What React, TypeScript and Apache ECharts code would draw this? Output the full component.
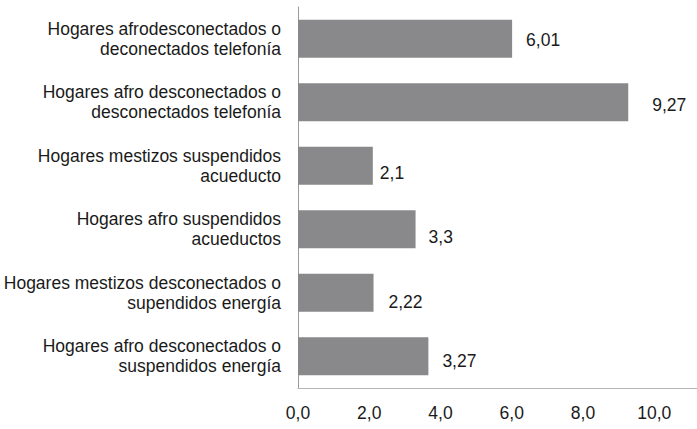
import React, { useEffect, useRef } from "react";
import * as echarts from "echarts";

const categories = [
  "Hogares afrodesconectados o\ndeconectados telefonía",
  "Hogares afro desconectados o\ndesconectados telefonía",
  "Hogares mestizos suspendidos\nacueducto",
  "Hogares afro suspendidos\nacueductos",
  "Hogares mestizos desconectados o\nsupendidos energía",
  "Hogares afro desconectados o\nsuspendidos energía",
];
// bar lengths as drawn in the picture
const barValues = [6.01, 9.27, 2.1, 3.3, 2.12, 3.66];
// value labels as printed
const valueLabels = ["6,01", "9,27", "2,1", "3,3", "2,22", "3,27"];
const xTicks = [0, 2, 4, 6, 8, 10];

// label offsets (style only)
const labelOffsets: [number, number][] = [
  [9, 1],
  [19, 3],
  [2, 7],
  [8, 8],
  [10, 9],
  [9, 5],
];

const FONT = "'Liberation Sans', Arial, sans-serif";
const FS = 17.5;

export default function App() {
  const ref = useRef<HTMLDivElement>(null);
  useEffect(() => {
    if (!ref.current) return;
    const chart = echarts.init(ref.current, undefined, { renderer: "svg" });
    chart.setOption({
      animation: false,
      backgroundColor: "#ffffff",
      grid: { left: 298, right: 0, top: 7, bottom: 41, containLabel: false },
      xAxis: {
        type: "value",
        min: xTicks[0],
        max: 11.2,
        interval: xTicks[1] - xTicks[0],
        splitLine: { show: false },
        axisTick: { show: false },
        axisLine: { show: true, lineStyle: { color: "#b5b5b5", width: 1 } },
        axisLabel: {
          showMaxLabel: false,
          margin: 16,
          fontSize: FS,
          fontFamily: FONT,
          color: "#1a1a1a",
          formatter: (v: number) =>
            xTicks.includes(v) ? v.toFixed(1).replace(".", ",") : "",
        },
      },
      yAxis: {
        type: "category",
        inverse: true,
        data: categories,
        axisTick: { show: false },
        axisLine: { show: true, lineStyle: { color: "#9a9a9a", width: 1 } },
        axisLabel: {
          margin: 17,
          fontSize: FS,
          lineHeight: 20,
          fontFamily: FONT,
          color: "#1a1a1a",
          align: "right",
        },
      },
      series: [
        {
          type: "bar",
          barWidth: 38,
          data: barValues.map((v, i) => ({
            value: v,
            label: { offset: labelOffsets[i] },
          })),
          itemStyle: { color: "#89898b" },
          label: {
            show: true,
            position: "right",
            distance: 5,
            fontSize: FS,
            fontFamily: FONT,
            color: "#1a1a1a",
            formatter: (p: any) => valueLabels[p.dataIndex],
          },
        },
      ],
    });
    return () => chart.dispose();
  }, []);
  return (
    <div
      ref={ref}
      style={{ position: "absolute", left: 0, top: 0, width: 697, height: 429 }}
    />
  );
}
